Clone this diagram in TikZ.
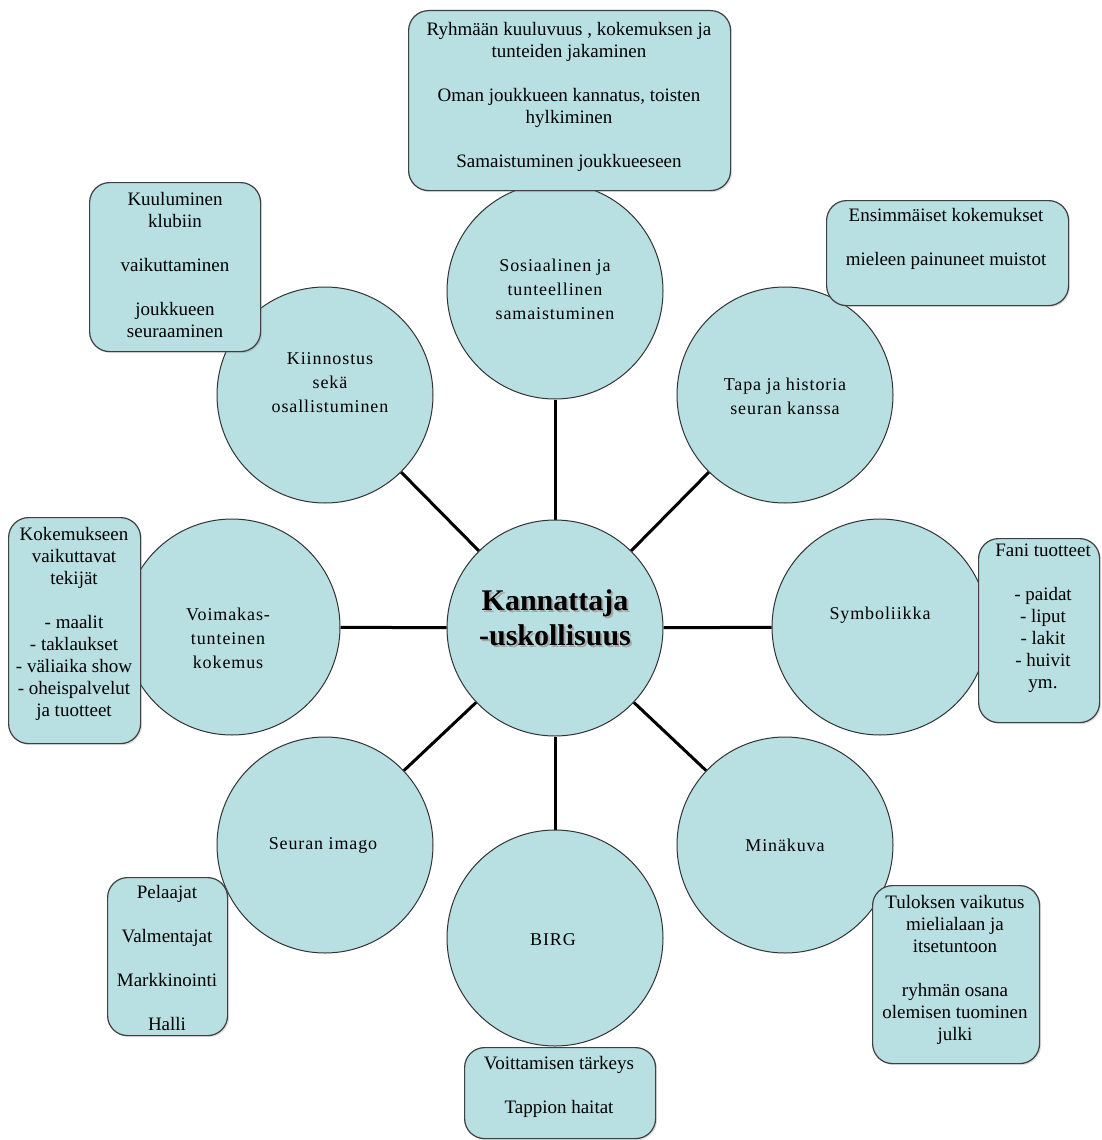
\documentclass[tikz,border=0pt]{standalone}
\usepackage{fontspec}
\setmainfont{Liberation Serif}
\usetikzlibrary{shadows}
\definecolor{fillblue}{HTML}{B8DFE2}
\pgfdeclarelayer{bg}
\pgfsetlayers{bg,main}
\begin{document}
\begin{tikzpicture}[x=1pt,y=-1pt,
  circ/.style={circle, draw=black!80, line width=1pt, fill=fillblue, minimum size=216pt, inner sep=0pt},
  spoke/.style={line width=3pt, black},
  box/.style={draw=black!75, line width=1.2pt, fill=fillblue, rounded corners=20pt, inner sep=0pt,
    anchor=north west, drop shadow={opacity=0.25, shadow xshift=1.5pt, shadow yshift=-1.5pt}},
  boxtext/.style={align=center, font=\fontsize{19}{22}\selectfont, inner sep=0pt, anchor=north},
  circtext/.style={align=center, font=\fontsize{18}{24}\selectfont\addfontfeatures{LetterSpace=5}, inner sep=0pt}
]
\useasboundingbox (0,0) rectangle (1101,1140);

% circles
\node[circ] (c)  at (555,628) {};
\node[circ] (top) at (555,291) {};
\node[circ] (tr) at (785,395) {};
\node[circ] (r)  at (880,627) {};
\node[circ] (br) at (785,845) {};
\node[circ] (b)  at (555,938) {};
\node[circ] (bl) at (325,845) {};
\node[circ] (l)  at (232,627) {};
\node[circ] (tl) at (325,395) {};

% background and spokes (behind circles)
\begin{pgfonlayer}{bg}
\fill[white] (0,0) rectangle (1101,1140);
\foreach \n in {top,tr,r,br,b,bl,l,tl}{
  \draw[spoke] (c) -- (\n);
}
\end{pgfonlayer}

% circle texts
\node[circtext] (ttop) at (555,289) {Sosiaalinen ja\\tunteellinen\\samaistuminen};
\node[circtext] (ttl) at (330,383) {Kiinnostus\\sekä\\osallistuminen};
\node[circtext] (ttr) at (785,396) {Tapa ja historia\\seuran kanssa};
\node[circtext] (tr_) at (880,615) {Symboliikka};
\node[circtext] (tl_) at (228,638) {Voimakas-\\tunteinen\\kokemus};
\node[circtext] (tbl) at (323,845) {Seuran imago};
\node[circtext] (tbr) at (785,845) {Minäkuva};
\node[circtext] (tb) at (553,940) {BIRG};

% centre text with shadow
\node[align=center, font=\fontsize{30}{35}\selectfont\bfseries, text=black!35, inner sep=0pt] (cshadow) at (557,619.5) {Kannattaja\\-uskollisuus};
\node[align=center, font=\fontsize{30}{35}\selectfont\bfseries, inner sep=0pt] (ctext) at (555,617.5) {Kannattaja\\-uskollisuus};

% boxes
\node[box, minimum width=322pt, minimum height=180pt] (b1) at (408,10) {};
\node[boxtext] (b1t) at (569,22) {Ryhmään kuuluvuus , kokemuksen ja\\tunteiden jakaminen\\[22pt]Oman joukkueen kannatus, toisten\\hylkiminen\\[22pt]Samaistuminen joukkueeseen};

\node[box, minimum width=171pt, minimum height=169pt] (b2) at (89,182) {};
\node[boxtext] (b2t) at (175,192) {Kuuluminen\\klubiin\\[22pt]vaikuttaminen\\[22pt]joukkueen\\seuraaminen};

\node[box, minimum width=242pt, minimum height=105pt] (b3) at (826,200) {};
\node[boxtext] (b3t) at (946,208) {Ensimmäiset kokemukset\\[22pt]mieleen painuneet muistot};

\node[box, minimum width=121pt, minimum height=184pt] (b4) at (978,538) {};
\node[boxtext] (b4t) at (1043,544) {Fani tuotteet\\[22pt]- paidat\\- liput\\- lakit\\- huivit\\ym.};

\node[box, minimum width=132pt, minimum height=226pt] (b5) at (8,517) {};
\node[boxtext] (b5t) at (74,527) {Kokemukseen\\vaikuttavat\\tekijät\\[22pt]- maalit\\- taklaukset\\- väliaika show\\- oheispalvelut\\ja tuotteet};

\node[box, minimum width=120pt, minimum height=158pt] (b6) at (107,877) {};
\node[boxtext] (b6t) at (167,885) {Pelaajat\\[22pt]Valmentajat\\[22pt]Markkinointi\\[22pt]Halli};

\node[box, minimum width=191pt, minimum height=91pt] (b7) at (464,1047) {};
\node[boxtext] (b7t) at (559,1056) {Voittamisen tärkeys\\[22pt]Tappion haitat};

\node[box, minimum width=167pt, minimum height=178pt] (b8) at (872,885) {};
\node[boxtext] (b8t) at (955,895) {Tuloksen vaikutus\\mielialaan ja\\itsetuntoon\\[22pt]ryhmän osana\\olemisen tuominen\\julki};
\end{tikzpicture}
\end{document}
